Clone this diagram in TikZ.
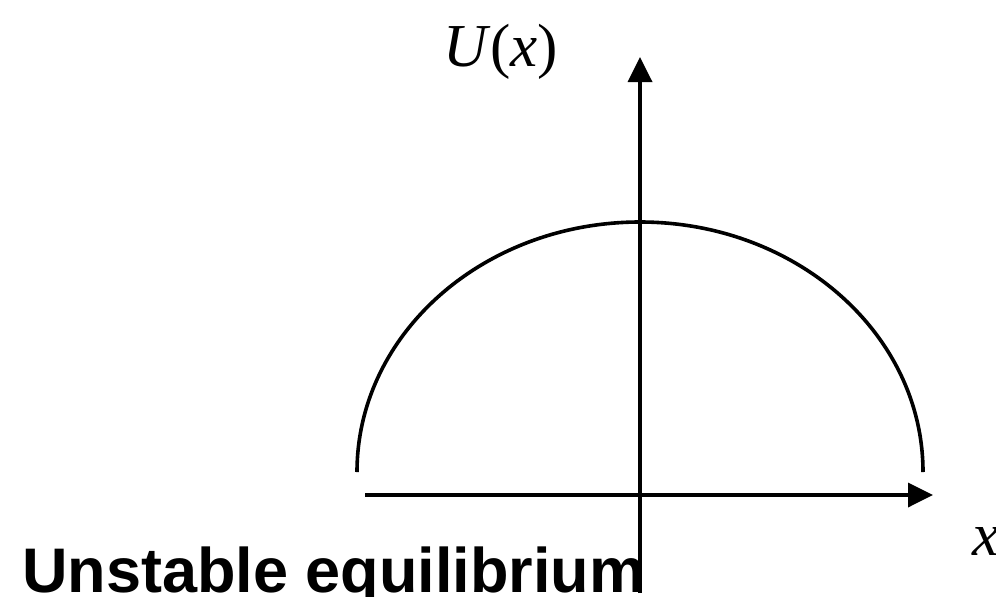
\documentclass[tikz,border=0pt]{standalone}
\usepackage{fontspec}
\setmainfont{Liberation Serif}
\newfontfamily\labelsans{Liberation Sans}
\usetikzlibrary{arrows.meta}
\tikzset{
  axisline/.style={line width=3.6pt, -{Triangle[length=25pt,width=24pt]}},
  curveline/.style={line width=3.6pt},
  mathlabel/.style={inner sep=0pt, font=\fontsize{61}{61}\selectfont},
  titlelabel/.style={inner sep=0pt, font=\fontsize{63}{63}\selectfont\labelsans\bfseries}
}
\begin{document}
\begin{tikzpicture}[x=1pt,y=-1pt]
\useasboundingbox (0,0) rectangle (996,597);
\coordinate (xstart) at (365,495);
\coordinate (xend) at (933,495);
\coordinate (ystart) at (640,593);
\coordinate (yend) at (640,57);
\coordinate (arcleft) at (357,472);
\draw[axisline] (xstart) -- (xend);
\draw[axisline] (ystart) -- (yend);
\draw[curveline] (arcleft) arc[start angle=180, end angle=0, x radius=283, y radius=-250];
\node[mathlabel, anchor=base west] (ulabel) at (443,66) {\textit{U}(\textit{x})};
\node[mathlabel, anchor=base west] (xlabel) at (972,555) {\textit{x}};
\node[titlelabel, anchor=base west] (title) at (22,592) {Unstable equilibrium};
\end{tikzpicture}
\end{document}
